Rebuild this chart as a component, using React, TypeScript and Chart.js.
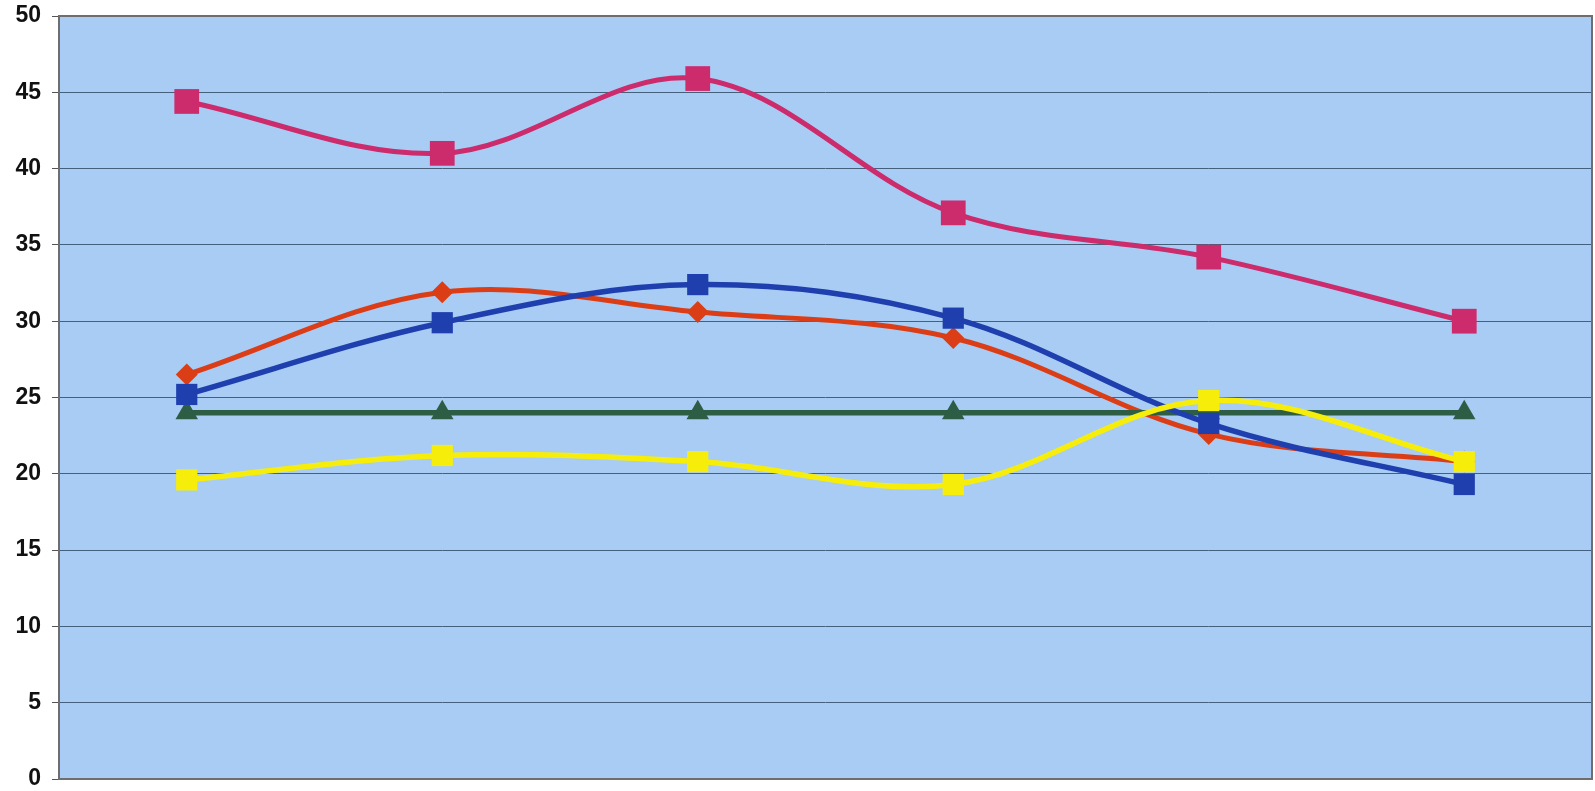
import React, { useEffect, useRef } from "react";
import { Chart, registerables } from "chart.js";

Chart.register(...registerables);

const categories = ["1", "2", "3", "4", "5", "6"];
const yellowSeries = [19.6, 21.2, 20.8, 19.3, 24.8, 20.8];
const blueSeries = [25.2, 29.9, 32.4, 30.2, 23.3, 19.3];
const greenSeries = [24, 24, 24, 24, 24, 24];
const orangeSeries = [26.5, 31.9, 30.6, 28.9, 22.6, 20.8];
const pinkSeries = [44.4, 41.0, 45.9, 37.1, 34.2, 30.0];
const yTicks = [0, 5, 10, 15, 20, 25, 30, 35, 40, 45, 50];

const plotBg = {
  id: "plotBg",
  beforeDraw(chart: any) {
    const { ctx, chartArea: a } = chart;
    ctx.save();
    ctx.fillStyle = "#a8ccf4";
    ctx.fillRect(a.left, a.top, a.right - a.left, a.bottom - a.top);
    ctx.restore();
  },
  afterDatasetsDraw(chart: any) {
    const { ctx, chartArea: a } = chart;
    ctx.save();
    ctx.strokeStyle = "#6e6e6e";
    ctx.lineWidth = 2;
    ctx.strokeRect(a.left, a.top, a.right - a.left, a.bottom - a.top);
    ctx.restore();
  },
};

export default function App() {
  const ref = useRef<HTMLCanvasElement>(null);
  useEffect(() => {
    if (!ref.current) return;
    const mk = (data: number[], color: string, style: string, radius: number, width: number) => ({
      data,
      borderColor: color,
      backgroundColor: color,
      pointBackgroundColor: color,
      pointBorderColor: color,
      pointStyle: style,
      pointRadius: radius,
      pointBorderWidth: 0,
      borderWidth: width,
      tension: 0.35,
      cubicInterpolationMode: "default",
      clip: false,
    });
    const chart = new Chart(ref.current, {
      type: "line",
      data: {
        labels: categories,
        datasets: [
          mk(yellowSeries, "#f6ee0a", "rect", 15, 5.5),
          mk(blueSeries, "#1f3fae", "rect", 15, 5.5),
          mk(greenSeries, "#2d5d45", "triangle", 13, 5.5),
          mk(orangeSeries, "#db3e16", "rectRot", 11, 5),
          mk(pinkSeries, "#cc2b6c", "rect", 17.5, 5),
        ] as any,
      },
      options: {
        animation: false,
        responsive: false,
        maintainAspectRatio: false,
        layout: { autoPadding: false, padding: { left: 0, right: 3, top: 16, bottom: 12 } },
        plugins: { legend: { display: false }, tooltip: { enabled: false } },
        scales: {
          x: {
            type: "category",
            offset: true,
            grid: { display: false },
            border: { display: false },
            ticks: { display: false },
            afterFit(s: any) {
              s.height = 0;
              s.paddingTop = 0;
              s.paddingBottom = 0;
              s.paddingLeft = 0;
              s.paddingRight = 0;
            },
          },
          y: {
            min: 0,
            max: 50,
            afterBuildTicks(s: any) {
              s.ticks = yTicks.map((v) => ({ value: v }));
            },
            grid: {
              color: "#45607c",
              lineWidth: 1,
              tickLength: 7,
              tickColor: "#555555",
            },
            border: { display: false },
            ticks: {
              color: "#111111",
              padding: 11,
              font: { family: "Liberation Sans, Arial, sans-serif", size: 23, weight: "bold" },
            },
            afterFit(s: any) {
              s.width = 59;
              s.paddingTop = 0;
              s.paddingBottom = 0;
            },
          },
        },
      } as any,
      plugins: [plotBg],
    });
    return () => chart.destroy();
  }, []);
  return (
    <div style={{ position: "fixed", left: 0, top: 0, width: 1595, height: 791, background: "#ffffff" }}>
      <canvas ref={ref} width={1595} height={791} style={{ width: 1595, height: 791, display: "block" }} />
    </div>
  );
}
